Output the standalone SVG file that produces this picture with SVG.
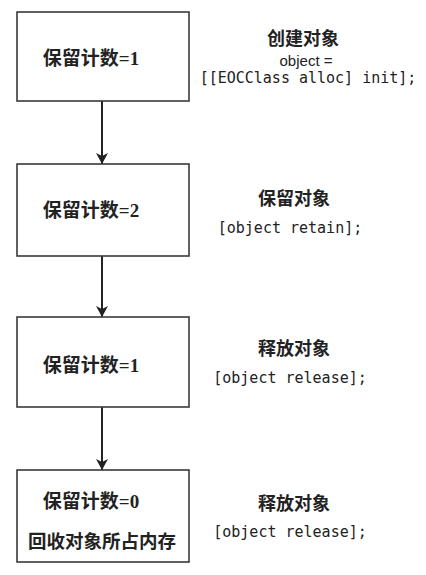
<svg xmlns="http://www.w3.org/2000/svg" width="426" height="575" viewBox="0 0 426 575">
<defs>
<marker id="arr" markerWidth="12" markerHeight="12" refX="11" refY="6" orient="auto" markerUnits="userSpaceOnUse">
<path d="M0,0 L11,6 L0,12 L3,6 Z" fill="#222"/>
</marker>
<style>
.box{fill:#fff;stroke:#3a3a3a;stroke-width:1.6}
.cnt{font-family:"Liberation Serif","Noto Sans CJK SC",serif;font-size:19px;font-weight:bold;fill:#222;text-anchor:middle}
.cn{font-family:"Noto Sans CJK SC",sans-serif;font-size:18.5px;font-weight:bold;fill:#222;text-anchor:middle}
.ttl{font-family:"Noto Sans CJK SC",sans-serif;font-size:18px;font-weight:bold;fill:#222;text-anchor:middle}
.code{font-family:"DejaVu Sans Mono",monospace;font-size:15px;fill:#222;text-anchor:middle}
.sans{font-family:"Liberation Sans",sans-serif;font-size:15px;fill:#222;text-anchor:middle}
.line{stroke:#222;stroke-width:2;fill:none}
</style>
</defs>
<g id="connectors">
<line class="line" x1="102" y1="101" x2="102" y2="164" marker-end="url(#arr)"/>
<line class="line" x1="102" y1="256" x2="102" y2="317" marker-end="url(#arr)"/>
<line class="line" x1="102" y1="407" x2="102" y2="470" marker-end="url(#arr)"/>
</g>
<g id="node1">
<rect class="box" x="17" y="12" width="172" height="89"/>
<text class="cnt" x="91" y="65">保留计数=1</text>
</g>
<g id="label1">
<text class="ttl" x="303" y="45">创建对象</text>
<text class="sans" x="306" y="66">object =</text>
<text class="code" x="308" y="83" font-size="14.5">[[EOCClass alloc] init];</text>
</g>
<g id="node2">
<rect class="box" x="17" y="164" width="172" height="92"/>
<text class="cnt" x="91" y="217">保留计数=2</text>
</g>
<g id="label2">
<text class="ttl" x="294" y="205">保留对象</text>
<text class="code" x="290" y="233">[object retain];</text>
</g>
<g id="node3">
<rect class="box" x="17" y="317" width="172" height="90"/>
<text class="cnt" x="91" y="372">保留计数=1</text>
</g>
<g id="label3">
<text class="ttl" x="294" y="355">释放对象</text>
<text class="code" x="290" y="383">[object release];</text>
</g>
<g id="node4">
<rect class="box" x="17" y="470" width="172" height="92"/>
<text class="cnt" x="91" y="508">保留计数=0</text>
<text class="cn" x="102" y="548">回收对象所占内存</text>
</g>
<g id="label4">
<text class="ttl" x="294" y="510">释放对象</text>
<text class="code" x="290" y="537">[object release];</text>
</g>
</svg>
